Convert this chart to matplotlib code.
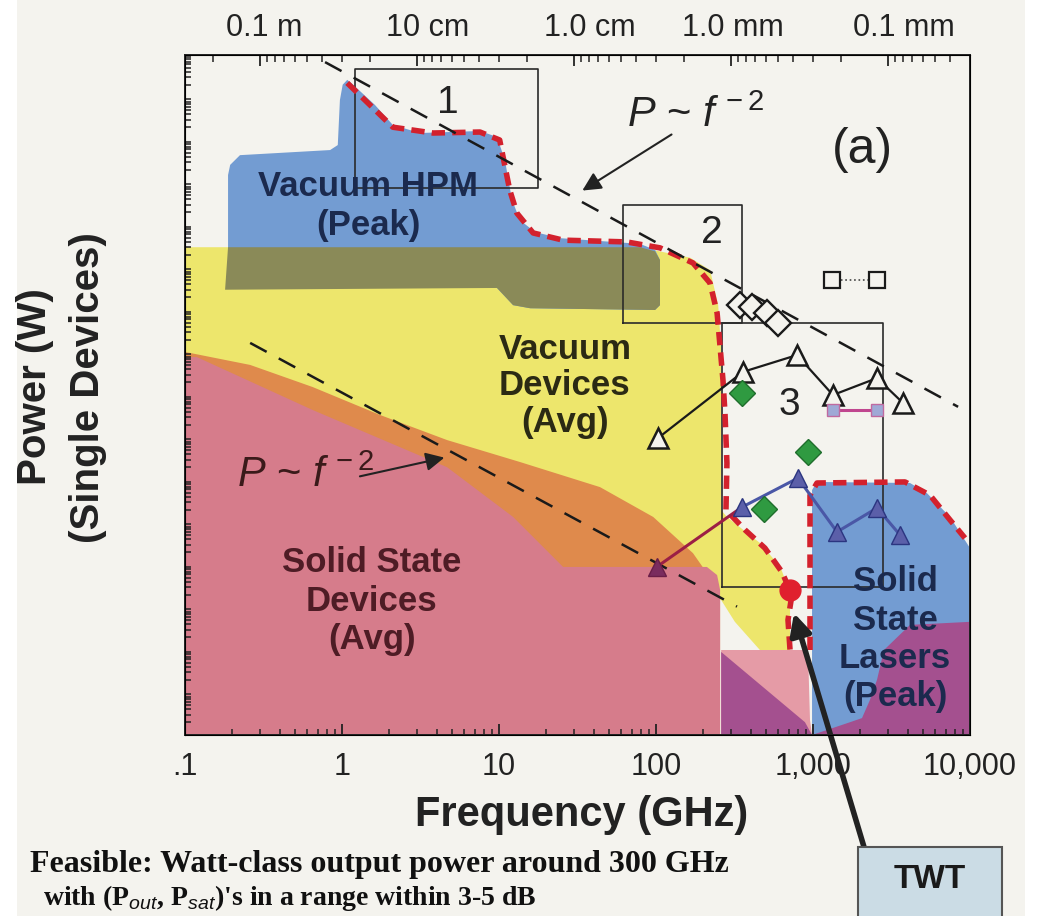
import numpy as np
import matplotlib
matplotlib.use("Agg")
import matplotlib.pyplot as plt
import matplotlib.transforms as mtrans
from matplotlib.patches import Rectangle

plt.rcParams['font.family'] = ['Liberation Sans', 'DejaVu Sans']
plt.rcParams['mathtext.fontset'] = 'custom'
plt.rcParams['mathtext.rm'] = 'Liberation Sans'
plt.rcParams['mathtext.it'] = 'Liberation Sans:italic'
plt.rcParams['mathtext.bf'] = 'Liberation Sans:bold'

# ---------------- data (frequency in GHz, power in W) ----------------
yellow_f = [0.1, 79, 165, 221, 249, 260, 260, 283, 459, 620, 714, 714, 459, 318, 260, 0.1]
yellow_P = [3.0e6, 3.0e6, 1.7e6, 8.7e5, 1.3e5, 1.15e4, 1.97, 1.35, 0.33, 0.09, 0.022, 1e-3, 1e-3, 4.6e-3, 0.015, 0.015]

hpm_f = [0.188, 0.188, 0.194, 0.224, 0.84, 0.94, 0.97, 1.01, 1.08, 1.16, 1.62, 2.11, 3.14, 7.57, 9.71,
         10.9, 12.1, 13.6, 17.0, 24.5, 44, 79, 98.6, 106, 106, 98.6, 15.8, 12.3, 9.71, 0.188]
hpm_P = [3.3e5, 1.5e8, 2.6e8, 4.4e8, 5.8e8, 7.6e8, 8.7e9, 2.0e10, 2.6e10, 2.1e10, 6.7e9, 2.25e9, 1.46e9, 1.63e9, 1.18e9,
         3.4e8, 3.9e7, 1.3e7, 6.8e6, 4.9e6, 4.2e6, 3.6e6, 2.6e6, 1.5e6, 1.3e5, 1.0e5, 1.1e5, 1.3e5, 3.3e5, 3.3e5]

olive_f = [0.188, 79, 98.6, 106, 106, 98.6, 15.8, 12.3, 9.71, 0.18]
olive_P = [3.0e6, 3.0e6, 2.4e6, 1.5e6, 1.3e5, 1.0e5, 1.1e5, 1.3e5, 3.3e5, 3.0e5]

orange_f = [0.1, 0.26, 0.65, 1.75, 4.67, 13.6, 44, 96, 172, 227, 256, 256, 0.1]
orange_P = [1.03e4, 5.1e3, 1.54e3, 338, 87, 26.5, 6.8, 1.35, 0.19, 0.044, 0.015, 1e-5, 1e-5]

pink_f = [0.1, 0.119, 0.65, 4.67, 12.3, 25.6, 211, 245, 256, 256, 0.1]
pink_P = [7.8e3, 7.8e3, 444, 20, 1.35, 0.09, 0.09, 0.058, 0.026, 1e-5, 1e-5]

lightpink_f = [260, 929, 957, 986, 260]
lightpink_P = [1e-3, 1e-3, 2.25e-5, 1e-5, 1e-5]

purple1_f = [260, 889, 986, 260]
purple1_P = [9e-4, 2e-5, 1e-5, 1e-5]

laser_f = [986, 986, 1060, 4150, 5320, 7460, 10000, 10000]
laser_P = [1e-5, 5.8, 9.0, 8.5, 4.9, 1.35, 0.25, 1e-5]

purple2_f = [986, 1722, 2052, 2306, 2558, 2833, 4150, 10000, 10000]
purple2_P = [1e-5, 2e-5, 2.5e-5, 6.7e-5, 2e-4, 1e-3, 3.9e-3, 4.6e-3, 1e-5]

redA_f = [1.08, 2.11, 3.80, 7.57, 10.1, 11.7, 13.0, 16.5, 25.6, 65, 106, 172, 221, 245, 256, 267, 275,
          283, 279, 369, 494, 635, 734, 693, 714]
redA_P = [2.2e10, 2.0e9, 1.46e9, 1.54e9, 1e9, 6.7e7, 1.9e7, 6.5e6, 4.4e6, 4.0e6, 2.9e6, 1.28e6, 4.3e5, 8.5e4,
          1.35e4, 2.25e3, 377, 25, 1.97, 0.67, 0.25, 0.068, 0.0197, 0.0051, 1e-3]
redB_f = [957, 957, 1060, 3854, 5560, 7460, 9290]
redB_P = [1e-3, 4.4, 8.5, 9.0, 4.4, 1.15, 0.43]

ref1_f = [0.78, 8400]
ref1_P = [6.8e10, 527]
ref2_f = [0.26, 328]
ref2_P = [1.68e4, 0.0105]

box1_f = [1.21, 17.7]; box1_P = [7.4e7, 4.7e10]
box2_f = [61.7, 353];  box2_P = [4.9e4, 2.96e7]
box3_f = [263, 2790];  box3_P = [0.030, 4.9e4]

diam_f = [343, 409, 509, 598]
diam_P = [1.3e5, 1.18e5, 8.5e4, 4.9e4]
sq_f = [1321, 2558]
sq_P = [5.1e5, 5.1e5]
otri_f = [103, 358, 791, 1340, 2558, 3743]
otri_P = [97, 3.5e3, 8.7e3, 1.0e3, 2.5e3, 650]
psq_f = [1340, 2558]
psq_P = [444, 444]
green_f = [353, 929, 490]
green_P = [1.1e3, 46, 2.1]
ftri_f = [353, 802, 1422, 2558, 3582]
ftri_P = [2.3, 11.1, 0.6, 2.2, 0.51]
rtri_f = [353, 101]
rtri_P = [2.3, 0.09]
twt_f = [714]
twt_P = [0.026]

x_ticks = [0.1, 1, 10, 100, 1000, 10000]
x_labels = ['.1', '1', '10', '100', '1,000', '10,000']
y_ticks = [1e-5, 1e-3, 1e-1, 1e1, 1e3, 1e5, 1e7, 1e9, 1e11]
y_labels = [r'$10^{-5}$', r'$10^{-3}$', r'$10^{-1}$', '10', r'$10^{3}$', r'$10^{5}$', r'$10^{7}$', r'$10^{9}$', r'$10^{11}$']
top_labels = ['0.1 m', '10 cm', '1.0 cm', '1.0 mm', '0.1 mm']
top_label_f = [0.32, 3.5, 38, 310, 3800]

# ---------------- colours ----------------
BG = '#F4F3EE'
YELLOW = '#EDE66C'
BLUE = '#739CD2'
OLIVE = '#8A8A58'
ORANGE = '#DF8A4C'
PINK = '#D67C8B'
LPINK = '#E59BA6'
PURPLE = '#A4508F'
RED = '#D3212D'

W, H = 1037, 916
fig = plt.figure(figsize=(W / 100, H / 100), dpi=100)
fig.patch.set_facecolor('white')
fig.patches.append(Rectangle((17 / W, 0), (1025 - 17) / W, 1, transform=fig.transFigure,
                             facecolor=BG, edgecolor='none', zorder=-10))

ax = fig.add_axes([185 / W, 1 - 735 / H, 785 / W, 680 / H])
ax.set_facecolor(BG)
ax.set_xscale('log')
ax.set_yscale('log')
ax.set_xlim(0.1, 1e4)
ax.set_ylim(1e-5, 1e11)

ax.fill(yellow_f, yellow_P, color=YELLOW, lw=0, zorder=1)
ax.fill(hpm_f, hpm_P, color=BLUE, lw=0, zorder=2)
ax.fill(olive_f, olive_P, color=OLIVE, lw=0, zorder=3)
ax.fill(orange_f, orange_P, color=ORANGE, lw=0, zorder=4)
ax.fill(pink_f, pink_P, color=PINK, lw=0, zorder=5)
ax.fill(lightpink_f, lightpink_P, color=LPINK, lw=0, zorder=5)
ax.fill(purple1_f, purple1_P, color=PURPLE, lw=0, zorder=6)
ax.fill(laser_f, laser_P, color=BLUE, lw=0, zorder=5)
ax.fill(purple2_f, purple2_P, color=PURPLE, lw=0, zorder=6)

for bf, bp in [(box1_f, box1_P), (box2_f, box2_P), (box3_f, box3_P)]:
    ax.plot([bf[0], bf[1], bf[1], bf[0], bf[0]], [bp[0], bp[0], bp[1], bp[1], bp[0]],
            color='#2a2a2a', lw=1.2, zorder=7)

ax.plot(redA_f, redA_P, color=RED, lw=4, dashes=(2.4, 1.3), zorder=8, solid_capstyle='butt')
ax.plot(redB_f, redB_P, color=RED, lw=4, dashes=(2.4, 1.3), zorder=8)
ax.plot(ref1_f, ref1_P, color='#1a1a1a', lw=1.8, dashes=(7.5, 5.5), zorder=9)
ax.plot(ref2_f, ref2_P, color='#1a1a1a', lw=1.8, dashes=(7.5, 5.5), zorder=9)

ax.plot(sq_f, sq_P, color='#444', lw=1.2, ls=':', marker='s', ms=11, mfc=BG, mec='#1a1a1a', mew=1.6, zorder=10)
ax.plot(diam_f, diam_P, ls='none', marker='D', ms=13, mfc=BG, mec='#1a1a1a', mew=1.7, zorder=10)
ax.plot(otri_f, otri_P, color='#1a1a1a', lw=1.6, marker='^', ms=15, mfc=BG, mec='#1a1a1a', mew=1.8, zorder=10)
ax.plot(psq_f, psq_P, color='#C0468F', lw=2.2, marker='s', ms=8, mfc='#9FA9D6', mec='#C06AA0', mew=1, zorder=10)
ax.plot(rtri_f, rtri_P, color='#9C1F45', lw=2.2, marker='^', ms=13, mfc='#7A2C5E', mec='#6A1E48',
        markevery=[1], zorder=10)
ax.plot(ftri_f, ftri_P, color='#4A57A6', lw=2.2, marker='^', ms=13, mfc='#5B5FA9', mec='#2B3580', mew=1, zorder=11)
ax.plot(green_f, green_P, ls='none', marker='D', ms=13, mfc='#2F9A41', mec='#1F6E2C', mew=1, zorder=11)
ax.plot(twt_f, twt_P, ls='none', marker='o', ms=15, mfc='#E0202E', mec='#E0202E', zorder=11)

# ---------------- ticks ----------------
ax.set_xticks(x_ticks)
ax.set_xticklabels(x_labels)
ax.xaxis.set_minor_locator(matplotlib.ticker.LogLocator(base=10, subs=np.arange(2, 10), numticks=100))
ax.xaxis.set_minor_formatter(matplotlib.ticker.NullFormatter())
ax.yaxis.set_major_locator(matplotlib.ticker.LogLocator(base=10, subs=[1.0], numticks=100))
ax.yaxis.set_minor_locator(matplotlib.ticker.LogLocator(base=10, subs=np.arange(2, 10), numticks=100))
ax.yaxis.set_minor_formatter(matplotlib.ticker.NullFormatter())
ylab_map = dict(zip(y_ticks, y_labels))
ax.yaxis.set_major_formatter(matplotlib.ticker.FuncFormatter(
    lambda v, p: next((l for t, l in ylab_map.items() if abs(np.log10(v) - np.log10(t)) < 1e-6), '')))
ax.tick_params(axis='both', which='major', direction='in', length=8, width=1.3, colors='#222', labelsize=22)
ax.tick_params(axis='both', which='minor', direction='in', length=4, width=1.1, colors='#222')
ax.tick_params(axis='x', which='major', pad=12)
ax.tick_params(axis='y', which='major', pad=4, labelsize=21)
ax.tick_params(right=False, top=False)
ax.xaxis.set_zorder(20)
ax.yaxis.set_zorder(20)
for s in ax.spines.values():
    s.set_color('#222')
    s.set_linewidth(1.4)
    s.set_zorder(20)

ax2 = ax.twiny()
ax2.set_xscale('log')
ax2.set_xlim(ax.get_xlim())
lam_major = np.array([1.0, 0.1, 0.01, 1e-3, 1e-4])
lam_minor = np.array([k * 10.0 ** n for n in range(-5, 1) for k in range(2, 10)])
fmaj = 0.3 / lam_major
fmin = 0.3 / lam_minor
fmin = fmin[(fmin >= 0.1) & (fmin <= 1e4)]
ax2.set_xticks(fmaj)
ax2.set_xticks(fmin, minor=True)
ax2.set_xticklabels([])
ax2.xaxis.set_minor_formatter(matplotlib.ticker.NullFormatter())
ax2.tick_params(axis='x', which='major', direction='in', length=8, width=1.3, colors='#222')
ax2.tick_params(axis='x', which='minor', direction='in', length=5, width=1.1, colors='#222')
ax2.set_yticks([])
tr_top = mtrans.blended_transform_factory(ax.transData, fig.transFigure)
for f, lab in zip(top_label_f, top_labels):
    fig.text(f, 1 - 28 / H, lab, transform=tr_top, ha='center', va='center', fontsize=22, color='#222')

# ---------------- labels ----------------
fig.text(582 / W, 1 - 815 / H, 'Frequency (GHz)', ha='center', va='center', fontsize=30,
         fontweight='bold', color='#222')
fig.text(35 / W, 1 - 387 / H, 'Power (W)', rotation=90, ha='center', va='center', fontsize=29,
         fontweight='bold', color='#222')
fig.text(88 / W, 1 - 388 / H, '(Single Devices)', rotation=90, ha='center', va='center', fontsize=29,
         fontweight='bold', color='#222')

ax.text(1.47, 2.8e7, 'Vacuum HPM\n(Peak)', ha='center', va='center', fontsize=25, fontweight='bold',
        color='#1B2A4E', zorder=12, linespacing=1.2)
ax.text(26.3, 1.63e3, 'Vacuum\nDevices\n(Avg)', ha='center', va='center', fontsize=25, fontweight='bold',
        color='#2B2A14', zorder=12, linespacing=1.15)
ax.text(1.55, 0.0142, 'Solid State\nDevices\n(Avg)', ha='center', va='center', fontsize=25, fontweight='bold',
        color='#4E1C25', zorder=12, linespacing=1.2)
ax.text(3330, 1.8e-3, 'Solid\nState\nLasers\n(Peak)', ha='center', va='center', fontsize=25, fontweight='bold',
        color='#1B2A4E', zorder=12, linespacing=1.2)

ax.text(4.73, 7.4e9, '1', ha='center', va='center', fontsize=28, color='#222', zorder=12)
ax.text(227, 6.5e6, '2', ha='center', va='center', fontsize=28, color='#222', zorder=12)
ax.text(703, 582, '3', ha='center', va='center', fontsize=28, color='#222', zorder=12)
ax.text(2080, 5.8e8, '(a)', ha='center', va='center', fontsize=36, color='#222', zorder=12)

ax.text(65, 2.0e9, r'$\mathit{P}$ ~ $\mathit{f}^{\,-2}$', ha='left', va='baseline', fontsize=30,
        color='#222', zorder=12)
ax.text(0.214, 6.8, r'$\mathit{P}$ ~ $\mathit{f}^{\,-2}$', ha='left', va='baseline', fontsize=30,
        color='#3a1a1a', zorder=12)
ax.annotate('', xy=(32.8, 5.97e7), xytext=(130, 1.46e9),
            arrowprops=dict(arrowstyle='-|>', lw=1.5, color='#222', mutation_scale=28), zorder=12)
ax.annotate('', xy=(4.67, 34.7), xytext=(1.25, 11.8),
            arrowprops=dict(arrowstyle='-|>', lw=1.5, color='#222', mutation_scale=28), zorder=12)

# TWT call-out
fig.patches.append(Rectangle((858 / W, 1 - 930 / H), (1002 - 858) / W, (930 - 847) / H,
                             transform=fig.transFigure, facecolor='#CBDCE5', edgecolor='#555',
                             lw=1.5, zorder=5))
fig.text(930 / W, 1 - 880 / H, 'TWT', ha='center', va='center', fontsize=24, fontweight='bold',
         color='#1a1a1a', zorder=6)
ax.annotate('', xy=(757, 0.0074), xycoords='data', xytext=(864 / W, 1 - 847 / H),
            textcoords='figure fraction',
            arrowprops=dict(arrowstyle='-|>', lw=4, color='#222', mutation_scale=32,
                            shrinkA=0, shrinkB=0), zorder=13, annotation_clip=False)

fig.text(30 / W, 1 - 872 / H, 'Feasible: Watt-class output power around 300 GHz',
         fontfamily='Liberation Serif', fontweight='bold', fontsize=23, va='baseline', color='#111')
fig.text(43 / W, 1 - 905 / H, "with (P$_{out}$, P$_{sat}$)'s in a range within 3-5 dB",
         fontfamily='Liberation Serif', fontweight='bold', fontsize=20, va='baseline', color='#111')

fig.savefig('out.png', dpi=100, facecolor=fig.get_facecolor())
